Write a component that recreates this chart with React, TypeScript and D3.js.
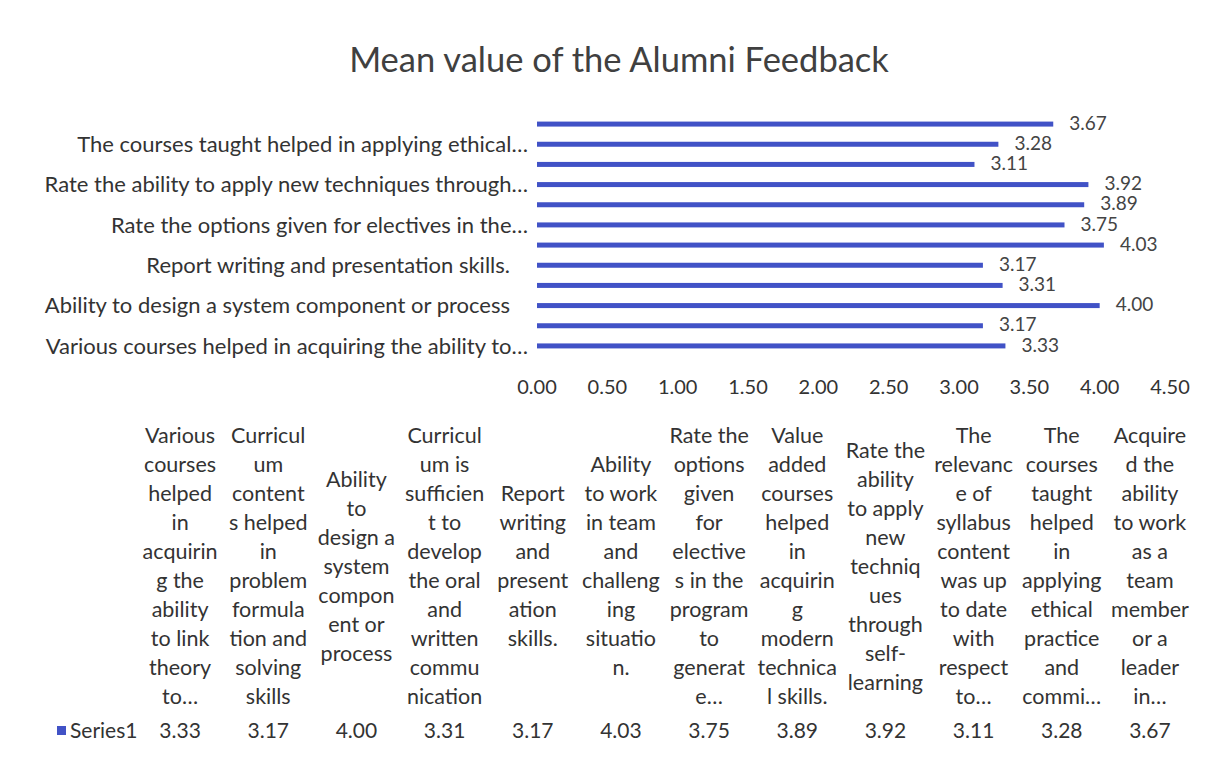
import React, { useEffect, useRef } from 'react';
import * as d3 from 'd3';

const categories = [
  'Various courses helped in acquiring the ability to link theory to...',
  'Curriculum contents helped in problem formulation and solving skills',
  'Ability to design a system component or process',
  'Curriculum is sufficient to develop the oral and written communication',
  'Report writing and presentation skills.',
  'Ability to work in team and challenging situation.',
  'Rate the options given for electives in the program to generate...',
  'Value added courses helped in acquiring modern technical skills.',
  'Rate the ability to apply new techniques through self-learning',
  'The relevance of syllabus content was up to date with respect to...',
  'The courses taught helped in applying ethical practice and commi...',
  'Acquired the ability to work as a team member or a leader in...',
];

const series1 = [3.33, 3.17, 4.0, 3.31, 3.17, 4.03, 3.75, 3.89, 3.92, 3.11, 3.28, 3.67];

// truncated axis labels, only every other category gets one
const axisLabels = [
  'Various courses helped in acquiring the ability to…',
  '',
  'Ability to design a system component or process',
  '',
  'Report writing and presentation skills.',
  '',
  'Rate the options given for electives in the…',
  '',
  'Rate the ability to apply new techniques through…',
  '',
  'The courses taught helped in applying ethical…',
  '',
];

const xTicks = [0, 0.5, 1, 1.5, 2, 2.5, 3, 3.5, 4, 4.5];

// wrapped column headers of the data table
const tableLabels = [
  ['Various', 'courses', 'helped', 'in', 'acquirin', 'g the', 'ability', 'to link', 'theory', 'to…'],
  ['Curricul', 'um', 'content', 's helped', 'in', 'problem', 'formula', 'tion and', 'solving', 'skills'],
  ['Ability', 'to', 'design a', 'system', 'compon', 'ent or', 'process'],
  ['Curricul', 'um is', 'sufficien', 't to', 'develop', 'the oral', 'and', 'written', 'commu', 'nication'],
  ['Report', 'writing', 'and', 'present', 'ation', 'skills.'],
  ['Ability', 'to work', 'in team', 'and', 'challeng', 'ing', 'situatio', 'n.'],
  ['Rate the', 'options', 'given', 'for', 'elective', 's in the', 'program', 'to', 'generat', 'e…'],
  ['Value', 'added', 'courses', 'helped', 'in', 'acquirin', 'g', 'modern', 'technica', 'l skills.'],
  ['Rate the', 'ability', 'to apply', 'new', 'techniq', 'ues', 'through', 'self-', 'learning'],
  ['The', 'relevanc', 'e of', 'syllabus', 'content', 'was up', 'to date', 'with', 'respect', 'to…'],
  ['The', 'courses', 'taught', 'helped', 'in', 'applying', 'ethical', 'practice', 'and', 'commi…'],
  ['Acquire', 'd the', 'ability', 'to work', 'as a', 'team', 'member', 'or a', 'leader', 'in…'],
];

const seriesName = 'Series1';

const W = 1219;
const H = 777;
const FONT = 'Lato, "Open Sans", sans-serif';
const BLUE = '#4152c6';
const TEXT = '#333';

export default function App() {
  const ref = useRef<SVGSVGElement | null>(null);

  useEffect(() => {
    document.body.style.margin = '0';
    const svg = d3.select(ref.current);
    svg.selectAll('*').remove();

    const data = categories.map((c, i) => ({ c, i, v: series1[i] }));

    const x = d3.scaleLinear().domain([0, 4.5]).range([537, 1170]);
    const y = d3
      .scaleBand<number>()
      .domain(d3.range(categories.length).reverse())
      .range([114, 356]);

    svg
      .append('rect')
      .attr('width', W)
      .attr('height', H)
      .attr('fill', '#fff');

    svg
      .append('text')
      .attr('x', 619)
      .attr('y', 72)
      .attr('text-anchor', 'middle')
      .style('font-size', '34.5px')
      .style('fill', '#404040')
      .text('Mean value of the Alumni Feedback');

    // bars
    svg
      .append('g')
      .selectAll('rect')
      .data(data)
      .enter()
      .append('rect')
      .attr('x', x(0))
      .attr('y', d => y(d.i)! + y.bandwidth() / 2 - 2.5)
      .attr('width', d => x(d.v) - x(0))
      .attr('height', 5)
      .attr('fill', BLUE);

    // data labels
    svg
      .append('g')
      .selectAll('text')
      .data(data)
      .enter()
      .append('text')
      .attr('x', d => x(d.v) + 16)
      .attr('y', d => y(d.i)! + y.bandwidth() / 2)
      .attr('dy', '0.3em')
      .style('font-size', '19px')
      .style('fill', '#444')
      .text(d => d.v.toFixed(2));

    // category axis labels (untruncated ones sit a little further left)
    svg
      .append('g')
      .selectAll('text')
      .data(data.filter(d => axisLabels[d.i]))
      .enter()
      .append('text')
      .attr('x', d => (axisLabels[d.i].endsWith('…') ? 528 : 510))
      .attr('y', d => y(d.i)! + y.bandwidth() / 2)
      .attr('dy', '0.35em')
      .attr('text-anchor', 'end')
      .style('font-size', '22px')
      .style('fill', TEXT)
      .text(d => axisLabels[d.i]);

    // value axis
    svg
      .append('g')
      .selectAll('text')
      .data(xTicks)
      .enter()
      .append('text')
      .attr('x', d => x(d))
      .attr('y', 387)
      .attr('dy', '0.35em')
      .attr('text-anchor', 'middle')
      .style('font-size', '20px')
      .style('fill', TEXT)
      .text(d => d.toFixed(2));

    // data table
    const col = d3
      .scaleBand<number>()
      .domain(d3.range(categories.length))
      .range([136, 1194]);
    const lineH = 29;
    const midY = 566;

    const cols = svg
      .append('g')
      .selectAll('g')
      .data(data)
      .enter()
      .append('g')
      .attr('transform', d => `translate(${col(d.i)! + col.bandwidth() / 2},0)`);

    cols.each(function (d) {
      const lines = tableLabels[d.i];
      const top = midY - ((lines.length - 1) * lineH) / 2;
      d3.select(this)
        .selectAll('text')
        .data(lines)
        .enter()
        .append('text')
        .attr('x', 0)
        .attr('y', (_, k) => top + k * lineH)
        .attr('dy', '0.35em')
        .attr('text-anchor', 'middle')
        .style('font-size', '21.5px')
        .style('fill', TEXT)
        .text(t => t);
    });

    cols
      .append('text')
      .attr('x', 0)
      .attr('y', 731)
      .attr('dy', '0.35em')
      .attr('text-anchor', 'middle')
      .style('font-size', '21px')
      .style('fill', TEXT)
      .text(d => d.v.toFixed(2));

    // legend key
    svg
      .append('rect')
      .attr('x', 57)
      .attr('y', 726)
      .attr('width', 9)
      .attr('height', 9)
      .attr('fill', BLUE);
    svg
      .append('text')
      .attr('x', 70)
      .attr('y', 731)
      .attr('dy', '0.35em')
      .style('font-size', '21px')
      .style('fill', TEXT)
      .text(seriesName);
  }, []);

  return (
    <svg
      ref={ref}
      width={W}
      height={H}
      style={{ display: 'block', fontFamily: FONT }}
    />
  );
}
